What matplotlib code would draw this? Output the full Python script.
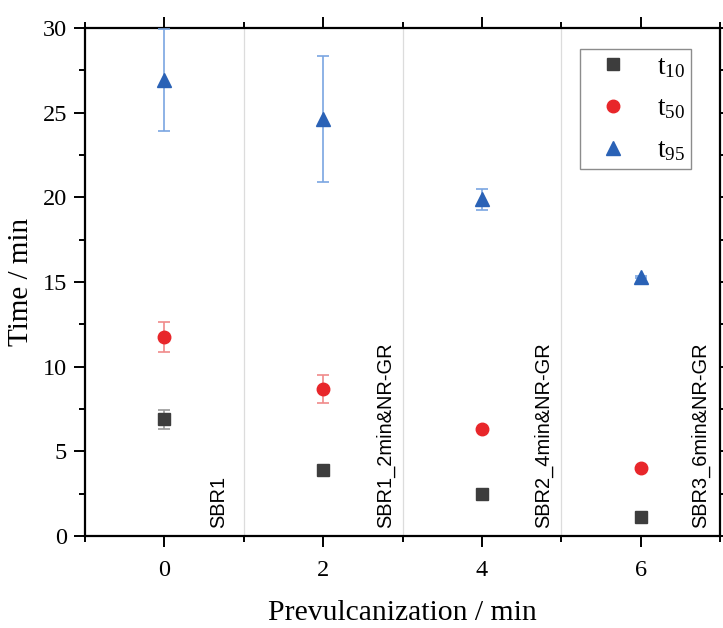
import matplotlib
matplotlib.use("Agg")
import matplotlib.pyplot as plt
from matplotlib.lines import Line2D
from matplotlib.ticker import MultipleLocator

# Prevulcanization time of each compound (min)
prevulc = [0, 2, 4, 6]

# Cure characteristics (min) with standard deviations
t10 = [6.88, 3.90, 2.47, 1.14]
t10_err = [0.57, 0.08, 0.08, 0.06]
t50 = [11.74, 8.70, 6.30, 4.00]
t50_err = [0.88, 0.82, 0.10, 0.10]
t95 = [26.93, 24.60, 19.88, 15.30]
t95_err = [3.00, 3.72, 0.61, 0.08]

sample_names = ["SBR1", "SBR1_2min&NR-GR", "SBR2_4min&NR-GR", "SBR3_6min&NR-GR"]
sample_label_x = [0.68, 2.79, 4.78, 6.76]
separators = [1, 3, 5]

serif = ["Liberation Serif", "DejaVu Serif"]
plt.rcParams["font.family"] = serif
plt.rcParams["mathtext.fontset"] = "custom"
plt.rcParams["mathtext.rm"] = "Liberation Serif"
plt.rcParams["mathtext.it"] = "Liberation Serif"

fig = plt.figure(figsize=(7.23, 6.28), dpi=100)
ax = fig.add_axes([0.1176, 0.1465, 0.8783, 0.8089])

for xs in separators:
    ax.axvline(xs, color="#dcdcdc", lw=0.9, zorder=0)

series = [
    (t10, t10_err, "s", "#3d3d3d", "#9a9a9a", r"$\mathregular{t_{10}}$", 8),
    (t50, t50_err, "o", "#e8262a", "#f08a8a", r"$\mathregular{t_{50}}$", 9),
    (t95, t95_err, "^", "#2a62b6", "#7aa6e2", r"$\mathregular{t_{95}}$", 10),
]
handles = []
for vals, errs, mk, col, ecol, lab, ms in series:
    ax.errorbar(prevulc, vals, yerr=errs, fmt=mk, color=col, ecolor=ecol,
                elinewidth=1.2, capsize=4, capthick=1.2, markersize=ms,
                zorder=3)
    handles.append(Line2D([], [], ls="none", marker=mk, color=col,
                          markersize=ms, label=lab))

for xn, name in zip(sample_label_x, sample_names):
    ax.text(xn, 0.45, name, rotation=90, ha="center", va="bottom",
            fontsize=14.4, family=["Liberation Sans", "DejaVu Sans"])

ax.set_xlim(-1, 7)
ax.set_ylim(0, 30)
ax.xaxis.set_major_locator(MultipleLocator(2))
ax.xaxis.set_minor_locator(MultipleLocator(1))
ax.yaxis.set_major_locator(MultipleLocator(5))
ax.yaxis.set_minor_locator(MultipleLocator(2.5))

for side in ["left", "right", "top", "bottom"]:
    ax.spines[side].set_linewidth(1.6)
ax.tick_params(which="both", direction="out", top=True, right=True, width=1.4,
               labelsize=17.5)
ax.tick_params(which="major", length=8)
ax.tick_params(which="minor", length=4.5)
ax.tick_params(axis="x", pad=9)
ax.tick_params(axis="y", pad=5)

ax.set_xlabel("Prevulcanization / min", fontsize=21.3, labelpad=14)
ax.set_ylabel("Time / min", fontsize=21, labelpad=6)

leg = ax.legend(handles=handles, loc="upper right",
                bbox_to_anchor=(0.954, 0.959), borderaxespad=0, fontsize=19.5,
                frameon=True, fancybox=False, edgecolor="#707070",
                handletextpad=0.6, borderpad=0.22, labelspacing=0.62,
                handlelength=2.0, numpoints=1)
leg.get_frame().set_linewidth(1.0)

fig.savefig("out.png", dpi=100)
